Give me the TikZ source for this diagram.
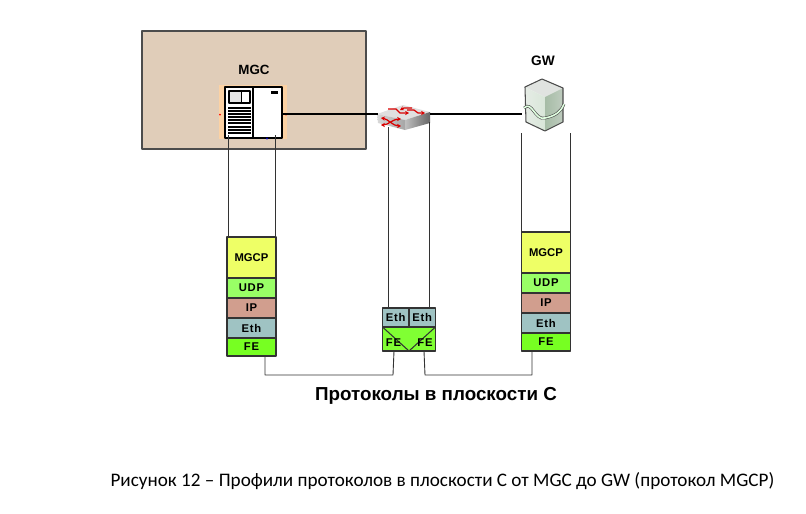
\documentclass[tikz,border=0pt]{standalone}
\usepackage{fontspec}
\usetikzlibrary{arrows.meta}
\setmainfont{Liberation Sans}
\newfontfamily\captionfont{Carlito}
\tikzset{
  layerfont/.style={font=\bfseries\fontsize{6.4}{8}\selectfont\addfontfeature{LetterSpace=7}},
  layerbox/.style={draw=black!80, line width=0.6pt, inner sep=0pt, outer sep=0pt, layerfont},
  thinline/.style={draw=black!80, line width=0.5pt},
  linkline/.style={draw=black, line width=1.2pt},
  redarrow/.style={draw=red!85!black, line width=0.7pt, -{Stealth[length=2.2pt,width=2.4pt]}},
  redboth/.style={draw=red!85!black, line width=0.7pt, {Stealth[length=2.2pt,width=2.4pt]}-{Stealth[length=2.2pt,width=2.4pt]}},
}
\definecolor{roomfill}{HTML}{E0CDB9}
\definecolor{mgcpfill}{HTML}{EEFF66}
\definecolor{udpfill}{HTML}{99FF66}
\definecolor{ipfill}{HTML}{D19E8E}
\definecolor{ethfill}{HTML}{9FC3C3}
\definecolor{fefill}{HTML}{77FF22}
\definecolor{fefillb}{HTML}{80FF33}
\definecolor{glowfill}{HTML}{FCD2A4}
\newcommand{\layerstack}[3]{% prefix, left x, top y
  \path (#2,#3) coordinate (#1t);
  \node[layerbox, fill=mgcpfill, minimum width=0.98cm, minimum height=0.82cm, anchor=north west] (#1mgcp) at (#1t) {\addfontfeature{LetterSpace=0}MGCP};
  \node[layerbox, fill=udpfill, minimum width=0.98cm, minimum height=0.40cm, anchor=north] (#1udp) at (#1mgcp.south) {UDP};
  \node[layerbox, fill=ipfill, minimum width=0.98cm, minimum height=0.40cm, anchor=north] (#1ip) at (#1udp.south) {IP};
  \node[layerbox, fill=ethfill, minimum width=0.98cm, minimum height=0.40cm, anchor=north] (#1eth) at (#1ip.south) {Eth};
  \node[layerbox, fill=fefill, minimum width=0.98cm, minimum height=0.36cm, anchor=north] (#1fe) at (#1eth.south) {FE};
}
\begin{document}
\begin{tikzpicture}[x=0.02cm, y=-0.02cm, line join=round]
  \useasboundingbox (0,0) rectangle (806,514);
  % room with the controller
  \node[draw=black!70, line width=0.7pt, fill=roomfill, minimum width=4.48cm, minimum height=2.36cm, outer sep=0pt, anchor=north west] (room) at (142,31) {};
  \node[font=\bfseries\fontsize{7.6}{10}\selectfont] (mgclabel) at (254,70) {MGC};
  \node[font=\bfseries\fontsize{7.8}{10}\selectfont] (gwlabel) at (543,61) {GW};
  % MGC icon
  \node[fill=glowfill, minimum width=1.36cm, minimum height=1.08cm, inner sep=0pt, anchor=north west] (mgcglow) at (219,85) {};
  \node[draw=black, line width=1pt, fill=white, minimum width=1.14cm, minimum height=1.02cm, inner sep=0pt, outer sep=0pt, anchor=north west] (mgc) at (225,87) {};
  \draw[line width=0.9pt] (253,87) -- (253,138);
  \draw[line width=1.2pt, fill=black!10] (229,91) rectangle (250,103);
  \fill[white] (242,92) rectangle (249,102);
  \draw[line width=0.8pt] (241.5,91) -- (241.5,103);
  \fill (271,91) rectangle (278,94);
  \foreach \y in {108,111,114,117,120,123,127,130,133}
    \draw[line width=0.8pt] (228,\y) -- (251,\y);
  \fill[red] (220,114.5) circle (1);
  \fill[red] (286,114.5) circle (1.2);
  \fill[blue!70!black] (267,138.5) circle (1.2);
  % switch
  \node[minimum width=1.06cm, minimum height=0.2cm, inner sep=0pt, outer sep=0pt] (switch) at (404,114) {};
  \fill[black!12] (377,114) -- (403,105) -- (430,112) -- (405,120) -- cycle;
  \shade[left color=black!15, right color=black!35] (377,114) -- (405,120) -- (405,130) -- (378,123) -- cycle;
  \shade[left color=black!25, right color=black!60] (405,120) -- (430,112) -- (430,123) -- (405,130) -- cycle;
  \draw[redarrow] (388,109) -- (396,109) -- (400,113) -- (409,113);
  \draw[redarrow] (412,108) -- (404,108) -- (400,110);
  \draw[redarrow] (407,110) -- (414,110) -- (418,113) -- (425,113);
  \draw[redboth] (381,118) .. controls (388,119) and (393,126) .. (401,126);
  \draw[redboth] (381,125) .. controls (388,125) and (393,119) .. (401,119);
  % gateway
  \node[minimum width=0.9cm, minimum height=0.2cm, inner sep=0pt, outer sep=0pt] (gw) at (544,114) {};
  \fill[green!10!black!12] (525,87) -- (542,79) -- (563,88) -- (545,97) -- cycle;
  \shade[left color=green!25!black!10, right color=green!35!black!15] (525,87) -- (545,97) -- (545,131) -- (526,122) -- cycle;
  \shade[left color=green!25!black!35, right color=green!20!black!25] (545,97) -- (563,88) -- (563,122) -- (545,131) -- (545,131) -- cycle;
  \draw[black!70, line width=0.6pt] (525,87) -- (542,79) -- (563,88) -- (563,122) -- (545,131) -- (526,122) -- cycle;
  \draw[black!70, line width=1.6pt] (524,108) .. controls (532,100) and (535,121) .. (545,118) .. controls (555,116) and (561,112) .. (564,104);
  \draw[green!12, line width=0.9pt] (524,108) .. controls (532,100) and (535,121) .. (545,118) .. controls (555,116) and (561,112) .. (564,104);
  % protocol stacks
  \layerstack{l}{227}{237}
  \layerstack{r}{521.5}{232}
  \node[layerbox, fill=ethfill, minimum width=0.53cm, minimum height=0.38cm, anchor=north west] (sethl) at (382.5,308) {Eth};
  \node[layerbox, fill=ethfill, minimum width=0.53cm, minimum height=0.38cm, anchor=north west] (sethr) at (sethl.north east) {Eth};
  \node[layerbox, fill=fefillb, minimum width=1.06cm, minimum height=0.48cm, anchor=north west] (sfe) at (sethl.south west) {};
  \draw[black!80, line width=0.6pt] (sfe.north west) -- (sfe.south) -- (sfe.north east);
  \node[layerfont] (sfel) at (393.5,343) {FE};
  \node[layerfont] (sfer) at (425,343) {FE};
  % connectors
  \draw[linkline] (mgc.east |- switch) -- (switch.west);
  \draw[linkline] (switch.east) -- (gw.west);
  \path (228,135) coordinate (mgca) (275,135) coordinate (mgcb);
  \path (388,127) coordinate (swa) (429,122) coordinate (swb);
  \path (521.5,133) coordinate (gwa) (570,133) coordinate (gwb);
  \draw[thinline] (mgca) -- (mgca |- lmgcp.north);
  \draw[thinline] (mgcb) -- (mgcb |- lmgcp.north);
  \draw[thinline] (swa) -- (swa |- sethl.north);
  \draw[thinline] (swb) -- (swb |- sethr.north);
  \draw[thinline] (gwa) -- (gwa |- rmgcp.north);
  \draw[thinline] (gwb) -- (gwb |- rmgcp.north);
  \path (265,375) coordinate (busl) (393,375) coordinate (busa) (425,375) coordinate (busm) (532,375) coordinate (busr);
  \draw[thinline] (busl |- lfe.south) -- (busl) -- (busa) -- (394,351);
  \draw[thinline] (424,351) -- (busm) -- (busr) -- (busr |- rfe.south);
  % texts
  \node[font=\bfseries\fontsize{10.7}{14}\selectfont] (title) at (436,396) {Протоколы в плоскости С};
  \node[font=\captionfont\fontsize{10.9}{14}\selectfont] (caption) at (442.5,481) {Рисунок 12 – Профили протоколов в плоскости С от MGC до GW (протокол MGCP)};
\end{tikzpicture}
\end{document}
